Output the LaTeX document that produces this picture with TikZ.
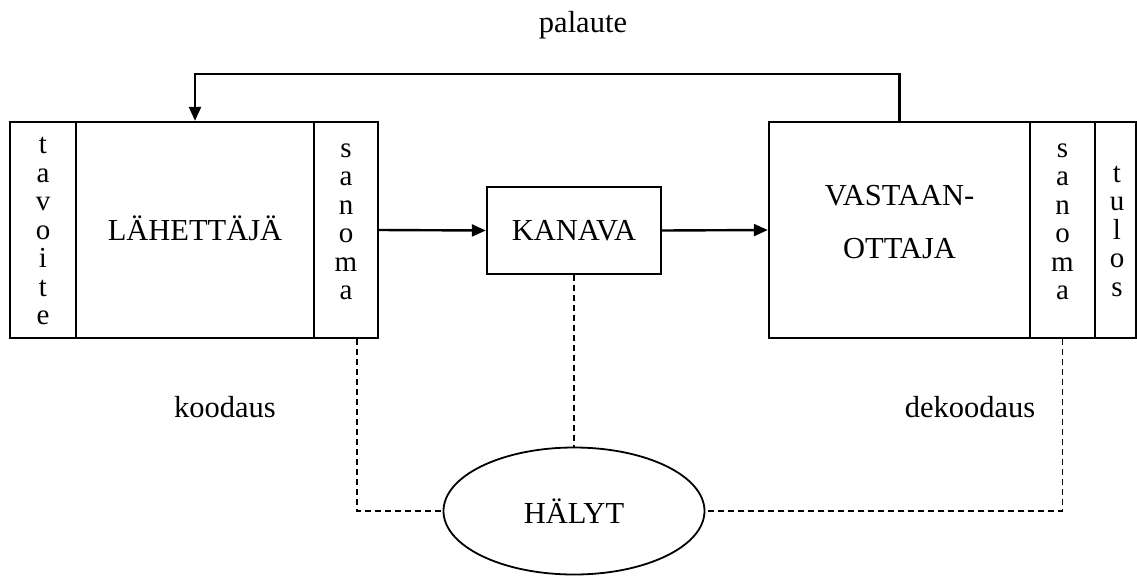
\documentclass[tikz,border=0pt]{standalone}
\usepackage{fontspec}
\setmainfont{Liberation Serif}
\usetikzlibrary{arrows.meta,shapes.geometric}
\tikzset{
	lohko/.style={draw,line width=2.4pt,inner sep=0pt,minimum height=216pt},
	pysty/.style={align=center,inner sep=0pt,font=\fontsize{29}{28.5}\selectfont},
	teksti/.style={inner sep=0pt,align=center,font=\fontsize{30.5}{34}\selectfont},
	nuoli/.style={line width=2.4pt,-{Triangle[length=14pt,width=12pt]}},
	katko/.style={line width=1.3pt,dash pattern=on 6pt off 4pt}
}
\begin{document}
\begin{tikzpicture}[x=1pt,y=-1pt]
	\useasboundingbox (0,0) rectangle (1137,576);
	%	lähettäjä
	\node[lohko,minimum width=66pt] (tavoite) at (43,230) {};
	\node[lohko,minimum width=238pt] (lahettaja) at (195,230) {};
	\node[lohko,minimum width=64pt] (sanoma1) at (346,230) {};
	\node[pysty] (tavoiteT) at (43,231) {t\\a\\v\\o\\i\\t\\e};
	\node[teksti] (lahettajaT) at (195,228) {LÄHETTÄJÄ};
	\node[pysty] (sanoma1T) at (346,222) {s\\a\\n\\o\\m\\a};
	%	kanava
	\node[draw,line width=2.4pt,minimum width=174pt,minimum height=87pt,teksti] (kanava) at (574,230.5) {KANAVA};
	%	vastaanottaja
	\node[lohko,minimum width=261pt] (vast) at (899.5,230) {};
	\node[lohko,minimum width=65pt] (sanoma2) at (1062.5,230) {};
	\node[lohko,minimum width=41pt] (tulos) at (1115.5,230) {};
	\node[teksti] (vastT) at (899.5,222) {VASTAAN-\\[19pt]OTTAJA};
	\node[pysty] (sanoma2T) at (1062.5,222) {s\\a\\n\\o\\m\\a};
	\node[pysty] (tulosT) at (1117,231) {t\\u\\l\\o\\s};
	%	hälyt
	\node[draw,ellipse,line width=1.8pt,minimum width=261pt,minimum height=127pt,teksti] (halyt) at (574,511) {HÄLYT};
	
	\draw[nuoli] (sanoma1.east) -- (kanava.west);
	\draw[nuoli] (kanava.east) -- (vast.west);
	\draw[nuoli] (vast.north) -- ++(0,-47) -| (lahettaja.north);
	
	\draw[katko] ([xshift=11pt]sanoma1.south) |- (halyt.west);
	\draw[katko] (sanoma2.south) |- (halyt.east);
	\draw[katko] (kanava.south) -- (halyt.north);
	
	\node[teksti] (palaute) at (583,25) {palaute};
	\node[teksti] (koodaus) at (225,407) {koodaus};
	\node[teksti] (dekoodaus) at (970,407) {dekoodaus};
\end{tikzpicture}
\end{document}
